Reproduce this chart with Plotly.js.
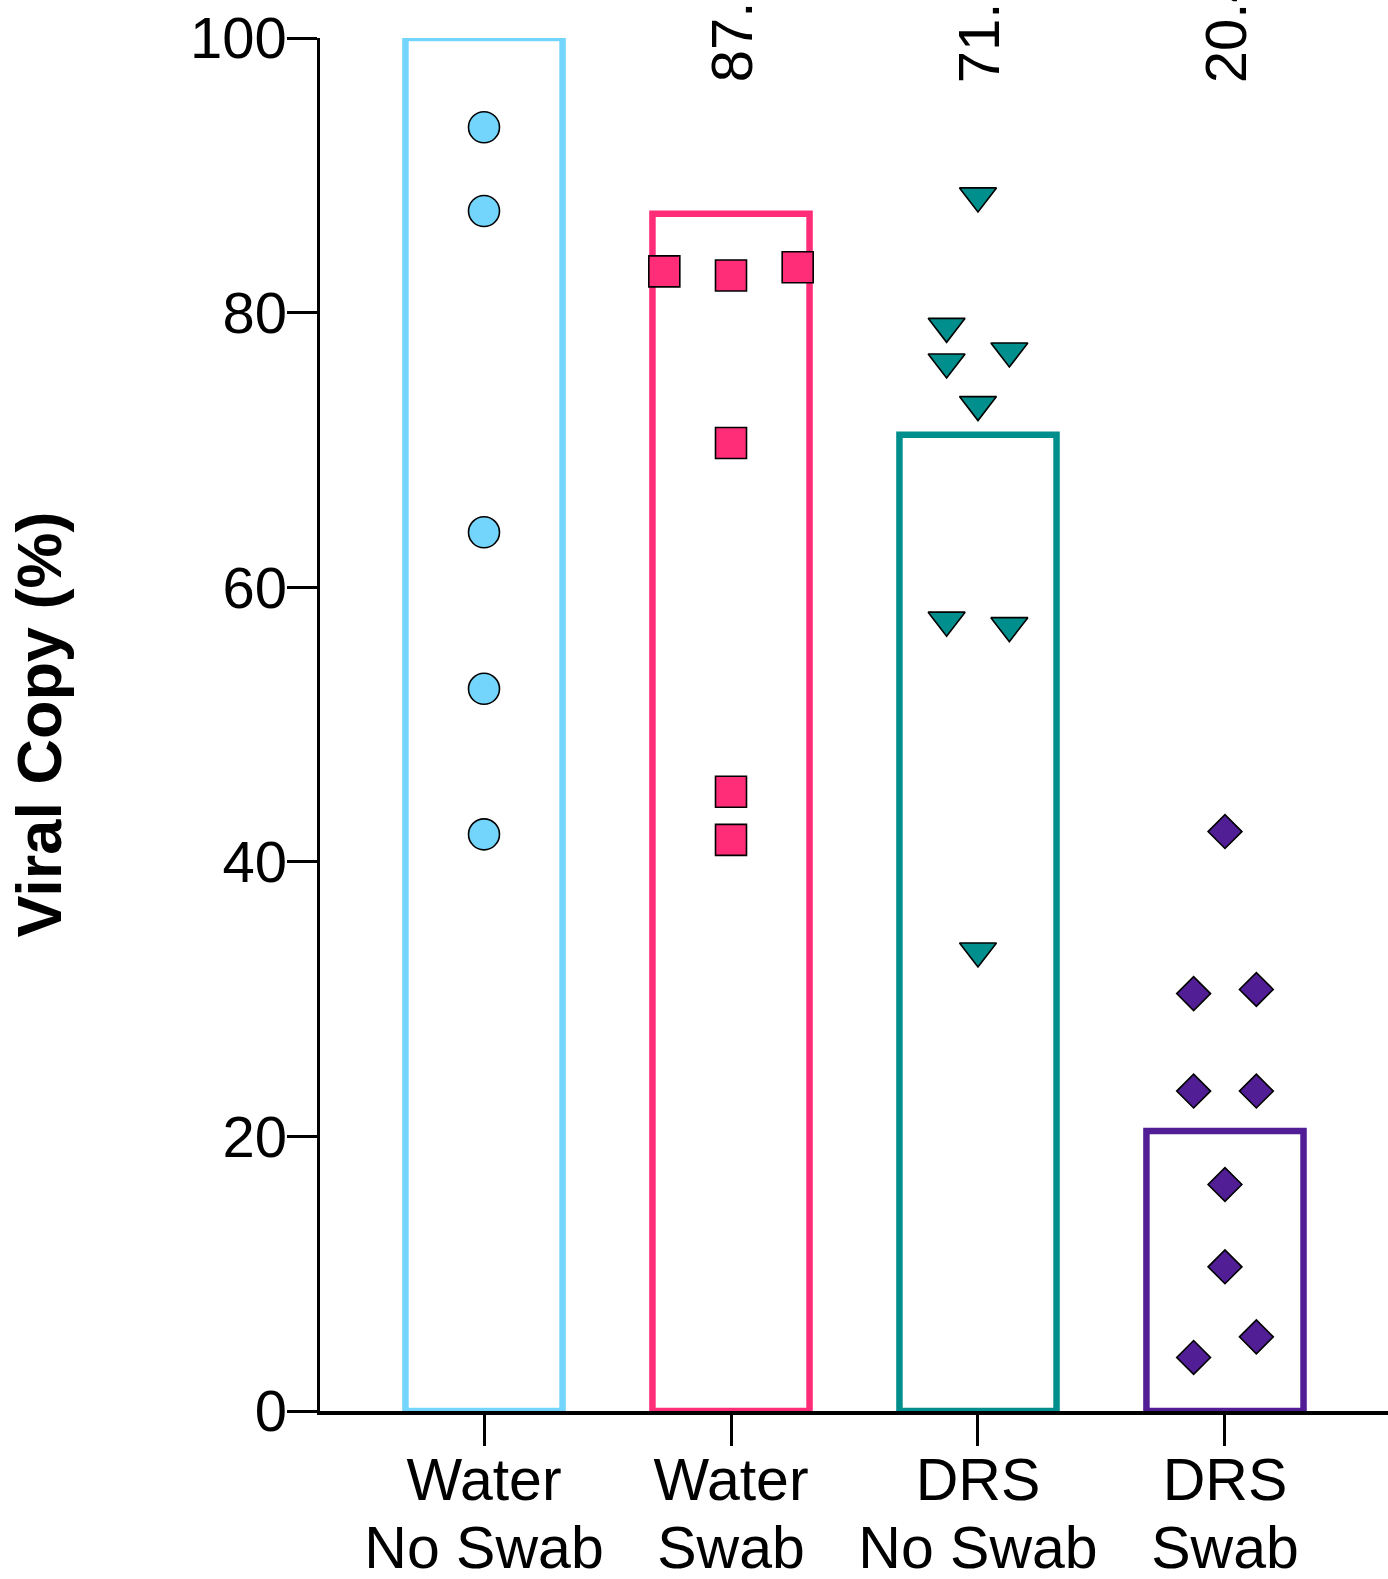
<!DOCTYPE html>
<html>
<head>
<meta charset="utf-8">
<script src="https://cdn.plot.ly/plotly-3.0.1.min.js"></script>
<style>
  html, body { margin: 0; padding: 0; background: #ffffff; }
  #chart { width: 1388px; height: 1579px; }
</style>
</head>
<body>
<div id="chart"></div>
<script>
// ---- data ----
const categoryLine1 = ["Water", "Water", "DRS", "DRS"];
const categoryLine2 = ["No Swab", "Swab", "No Swab", "Swab"];
const barValues = [100, 87.2, 71.1, 20.4];
const barLabels = ["", "87.2", "71.1", "20.4"];
const colors = ["#74D5FC", "#FF2D78", "#008F8C", "#511E96"];

const waterNoSwabY = [93.5, 87.4, 64.0, 52.6, 42.0];
const waterNoSwabOffset = [0, 0, 0, 0, 0];

const waterSwabY = [83.0, 82.7, 83.3, 70.5, 45.1, 41.6];
const waterSwabOffset = [-0.27, 0, 0.27, 0, 0, 0];

const drsNoSwabY = [88.5, 79.0, 77.2, 76.4, 73.3, 57.6, 57.2, 33.5];
const drsNoSwabOffset = [0, -0.127, 0.127, -0.127, 0, -0.127, 0.127, 0];

const drsSwabY = [42.2, 30.4, 30.7, 23.3, 23.3, 16.5, 10.5, 5.4, 3.9];
const drsSwabOffset = [0, -0.127, 0.127, -0.127, 0.127, 0, 0, 0.127, -0.127];

const yTicks = [0, 20, 40, 60, 80, 100];

// ---- build ----
const catIdx = categoryLine1.map((_, i) => i);
const FONT = "Liberation Sans, Arial, Helvetica, sans-serif";

const bars = {
  type: "bar",
  x: catIdx,
  y: barValues,
  width: 0.636,
  marker: {
    color: "rgba(255,255,255,0)",
    line: { color: colors, width: 6.5 }
  },
  hoverinfo: "skip",
  showlegend: false
};

function pts(idx, ys, offs, symbol, size) {
  return {
    type: "scatter",
    mode: "markers",
    x: ys.map((_, k) => idx + offs[k]),
    y: ys,
    marker: {
      symbol: symbol,
      size: size,
      color: colors[idx],
      line: { color: "#000000", width: 1.6 }
    },
    cliponaxis: false,
    showlegend: false
  };
}

// invisible trace to activate second (label) x axis
const labelAxisTrace = {
  type: "scatter", mode: "markers", x: [0], y: [0],
  xaxis: "x2", yaxis: "y",
  marker: { opacity: 0, size: 1 },
  hoverinfo: "skip", showlegend: false
};

const traces = [
  bars,
  pts(0, waterNoSwabY, waterNoSwabOffset, "circle", 31),
  pts(1, waterSwabY, waterSwabOffset, "square", 31),
  pts(2, drsNoSwabY, drsNoSwabOffset, "triangle-down", 32),
  pts(3, drsSwabY, drsSwabOffset, "diamond", 26),
  labelAxisTrace
];

const annotations = [];
barLabels.forEach((t, i) => {
  if (!t) return;
  annotations.push({
    x: i, xref: "x",
    y: 0.966, yref: "paper",
    text: t,
    textangle: -90,
    showarrow: false,
    xanchor: "center",
    yanchor: "bottom",
    font: { family: FONT, size: 58, color: "#000000" }
  });
});
annotations.push({
  x: -0.264, xref: "paper",
  y: 0.5, yref: "paper",
  text: "<b>Viral Copy (%)</b>",
  textangle: -90,
  showarrow: false,
  xanchor: "center",
  yanchor: "middle",
  font: { family: FONT, size: 63, color: "#000000" }
});

const XRANGE = [-0.664, 3.66];

const layout = {
  width: 1388,
  height: 1579,
  margin: { l: 320, r: 0, t: 37.5, b: 167.5, pad: 0 },
  paper_bgcolor: "#ffffff",
  plot_bgcolor: "#ffffff",
  showlegend: false,
  font: { family: FONT, size: 58, color: "#000000" },
  xaxis: {
    range: XRANGE,
    tickmode: "array",
    tickvals: catIdx,
    ticktext: categoryLine1,
    ticks: "outside",
    ticklen: 31,
    tickwidth: 3,
    tickcolor: "#000000",
    ticklabelstandoff: -16,
    showline: true,
    linecolor: "#000000",
    linewidth: 3.5,
    showgrid: false,
    zeroline: false,
    tickfont: { family: FONT, size: 59, color: "#000000" }
  },
  xaxis2: {
    overlaying: "x",
    side: "bottom",
    anchor: "y",
    range: XRANGE,
    tickmode: "array",
    tickvals: catIdx,
    ticktext: categoryLine2,
    ticks: "outside",
    ticklen: 31,
    tickcolor: "rgba(0,0,0,0)",
    ticklabelstandoff: 54,
    showline: false,
    showgrid: false,
    zeroline: false,
    tickfont: { family: FONT, size: 59, color: "#000000" }
  },
  yaxis: {
    range: [0, 100],
    tickmode: "array",
    tickvals: yTicks,
    ticktext: yTicks.map(String),
    ticks: "outside",
    ticklen: 30,
    tickwidth: 3,
    tickcolor: "#000000",
    ticklabelstandoff: -12,
    showline: true,
    linecolor: "#000000",
    linewidth: 3.5,
    showgrid: false,
    zeroline: false,
    tickfont: { family: FONT, size: 58, color: "#000000" }
  },
  annotations: annotations
};

Plotly.newPlot("chart", traces, layout, { displayModeBar: false, staticPlot: true });
</script>
</body>
</html>
